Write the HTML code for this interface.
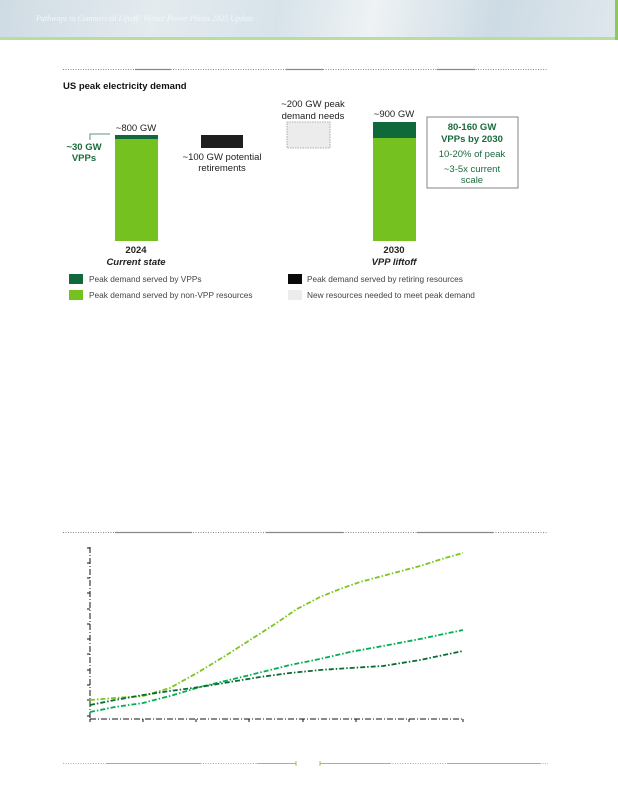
<!DOCTYPE html>
<html><head><meta charset="utf-8"><style>
body{margin:0;width:618px;height:800px;background:#fff;position:relative;overflow:hidden;font-family:"Liberation Sans",Arial,sans-serif}
.a{position:absolute}
</style></head><body>
<div class="a" style="left:0;top:0;width:618px;height:37px;background:linear-gradient(100deg,#cfdbe3 0%,#e4ebef 25%,#d7e3ea 45%,#eef2f4 60%,#cddbe4 80%,#dfe7ec 100%)"></div>
<div class="a" style="left:36px;top:14px;font:italic 8px 'Liberation Serif',serif;color:#f4f7f9">Pathways to Commercial Liftoff: Virtual Power Plants 2025 Update</div>
<div class="a" style="left:0;top:37px;width:618px;height:3px;background:#b9dd9e"></div>
<div class="a" style="left:615px;top:0;width:3px;height:40px;background:#8cc85a"></div>
<svg class="a" style="left:0;top:0" width="618" height="800">
<g stroke="#888" stroke-width="1">
<line x1="63" y1="69.5" x2="548" y2="69.5" stroke-dasharray="1 1.5"/>
<line x1="135" y1="69.5" x2="171" y2="69.5" stroke-width="1.2"/>
<line x1="286" y1="69.5" x2="323" y2="69.5" stroke-width="1.2"/>
<line x1="437" y1="69.5" x2="475" y2="69.5" stroke-width="1.2"/>
<line x1="63" y1="532.5" x2="548" y2="532.5" stroke-dasharray="1 1.5"/>
<line x1="115" y1="532.5" x2="192" y2="532.5" stroke-width="1.2"/>
<line x1="266" y1="532.5" x2="343" y2="532.5" stroke-width="1.2"/>
<line x1="417" y1="532.5" x2="493" y2="532.5" stroke-width="1.2"/>
</g>
<g stroke="#8cc85a" stroke-width="1">
<line x1="63" y1="763.5" x2="296" y2="763.5" stroke-dasharray="1 1.5"/>
<line x1="320" y1="763.5" x2="548" y2="763.5" stroke-dasharray="1 1.5"/>
<line x1="106" y1="763.5" x2="201" y2="763.5"/><line x1="257" y1="763.5" x2="296" y2="763.5"/>
<line x1="320" y1="763.5" x2="391" y2="763.5"/><line x1="447" y1="763.5" x2="541" y2="763.5"/>
<line x1="296" y1="761" x2="296" y2="766"/><line x1="320" y1="761" x2="320" y2="766"/>
</g>
<rect x="115" y="135" width="43" height="106" fill="#74c11f"/>
<rect x="115" y="135" width="43" height="4" fill="#10693a"/>
<polyline points="90,140 90,134 110,134" fill="none" stroke="#2a7a4a" stroke-width="0.8"/>
<rect x="201" y="135" width="42" height="13" fill="#1e1e1e"/>
<rect x="287" y="122" width="43" height="26" fill="#ececec" stroke="#999" stroke-width="0.8" stroke-dasharray="1.5 1"/>
<rect x="373" y="122" width="43" height="119" fill="#74c11f"/>
<rect x="373" y="122" width="43" height="16" fill="#10693a"/>
<rect x="427" y="117" width="91" height="71" fill="#fff" stroke="#666" stroke-width="0.8"/>
<rect x="69" y="274" width="14" height="10" fill="#10693a"/>
<rect x="69" y="290" width="14" height="10" fill="#74c11f"/>
<rect x="288" y="274" width="14" height="10" fill="#0a0a0a"/>
<rect x="288" y="290" width="14" height="10" fill="#ececec"/>
<g font-size="9.5" fill="#222" text-anchor="middle">
<text x="136" y="131">~800 GW</text>
<text x="222" y="160">~100 GW potential</text><text x="222" y="171">retirements</text>
<text x="313" y="107">~200 GW peak</text><text x="313" y="119">demand needs</text>
<text x="394" y="117">~900 GW</text>
<text x="136" y="253" font-weight="bold">2024</text>
<text x="136" y="265" font-weight="bold" font-style="italic">Current state</text>
<text x="394" y="253" font-weight="bold">2030</text>
<text x="394" y="265" font-weight="bold" font-style="italic">VPP liftoff</text>
</g>
<g font-size="9.5" fill="#1a6b3c" text-anchor="middle">
<text x="84" y="150" font-weight="bold">~30 GW</text><text x="84" y="161" font-weight="bold">VPPs</text>
<text x="472" y="130" font-weight="bold">80-160 GW</text><text x="472" y="142" font-weight="bold">VPPs by 2030</text>
<text x="472" y="157">10-20% of peak</text><text x="472" y="172">~3-5x current</text><text x="472" y="183">scale</text>
</g>
<text x="63" y="89" font-size="9.5" font-weight="bold" fill="#111">US peak electricity demand</text>
<g font-size="8.3" fill="#444">
<text x="89" y="282">Peak demand served by VPPs</text>
<text x="89" y="298">Peak demand served by non-VPP resources</text>
<text x="307" y="282">Peak demand served by retiring resources</text>
<text x="307" y="298">New resources needed to meet peak demand</text>
</g>
<g stroke="#111" stroke-width="1" fill="none">
<line x1="90" y1="547" x2="90" y2="719" stroke-dasharray="6 2 1 2"/>
<line x1="90" y1="719" x2="463" y2="719" stroke-dasharray="6 2 1 2"/>
<path d="M87 548h3M87 563h3M87 578h3M87 593h3M87 609h3M87 624h3M87 639h3M87 654h3M87 670h3M87 685h3M87 700h3M87 716h3"/>
<path d="M90 719v3M143 719v3M196 719v3M249 719v3M303 719v3M356 719v3M409 719v3M463 719v3"/>
</g>
<g fill="none" stroke-width="1.8" stroke-dasharray="5 2 1.5 2" stroke-linejoin="round">
<polyline points="90,700 115,698 143,696 170,688 197,673 225,656 250,640 275,624 297,609 320,597 340,589 360,582 390,574 420,566 445,558 463,553" stroke="#7cc520"/>
<polyline points="90,712 115,707 143,703 170,696 200,687 225,681 250,675 270,670 290,665 320,659 350,652 383,646 420,639 463,630" stroke="#00b050"/>
<polyline points="90,705 115,700 143,695 170,691 200,687 230,682 260,677 290,673 320,670 350,668 383,666 420,660 463,651" stroke="#0a6b35"/>
</g>
</svg>
</body></html>
